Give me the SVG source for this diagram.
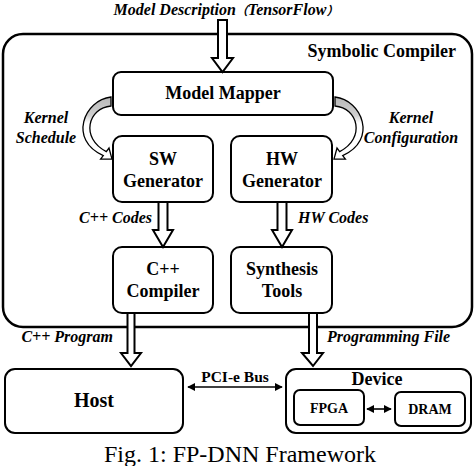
<svg xmlns="http://www.w3.org/2000/svg" width="474" height="466" viewBox="0 0 474 466">
<defs>
<style>
.box{fill:#fff;stroke:#000;stroke-width:2}
.outer{fill:#fff;stroke:#000;stroke-width:2.5}
.t{font-family:"Liberation Serif","Times New Roman",serif;font-weight:bold;fill:#000}
.it{font-family:"Liberation Serif","Times New Roman",serif;font-weight:bold;font-style:italic;fill:#000}
.harrow{fill:#fff;stroke:#000;stroke-width:2;stroke-linejoin:miter}
.curve{fill:url(#g);stroke:#000;stroke-width:1.3;stroke-linejoin:miter}
.dbl{stroke:#000;stroke-width:1.6;fill:none;marker-start:url(#ah);marker-end:url(#ah)}
</style>
<linearGradient id="g" x1="0" y1="0" x2="0" y2="1">
<stop offset="0" stop-color="#b8b8b8"/>
<stop offset="0.3" stop-color="#d0d0d0"/>
<stop offset="0.42" stop-color="#fff"/>
<stop offset="1" stop-color="#fff"/>
</linearGradient>
<marker id="ah" viewBox="0 0 10 10" refX="9" refY="5" markerWidth="5" markerHeight="5" orient="auto-start-reverse" markerUnits="strokeWidth">
<path d="M0,0 L10,5 L0,10 Z" fill="#000"/>
</marker>
</defs>
<rect width="474" height="466" fill="#fff"/>

<text class="it" x="226" y="15" text-anchor="middle" font-size="16">Model Description<tspan font-family="'Noto Sans CJK SC',sans-serif" font-size="12">（</tspan>TensorFlow<tspan font-family="'Noto Sans CJK SC',sans-serif" font-size="12">）</tspan></text>

<g id="symbolic-compiler">
<rect class="outer" x="3" y="34" width="469" height="293" rx="20"/>
<text class="t" x="456" y="57" font-size="18" text-anchor="end">Symbolic Compiler</text>
</g>

<g id="model-mapper">
<rect class="box" x="113" y="72" width="220" height="43" rx="8"/>
<text class="t" x="223" y="99" font-size="18" text-anchor="middle">Model Mapper</text>
</g>

<g id="sw-generator">
<rect class="box" x="113" y="136" width="100" height="66" rx="9"/>
<text class="t" x="163" y="165" font-size="18" text-anchor="middle">SW</text>
<text class="t" x="163" y="187" font-size="18" text-anchor="middle">Generator</text>
</g>

<g id="hw-generator">
<rect class="box" x="231" y="136" width="101" height="66" rx="9"/>
<text class="t" x="282" y="165" font-size="18" text-anchor="middle">HW</text>
<text class="t" x="282" y="187" font-size="18" text-anchor="middle">Generator</text>
</g>

<g id="cpp-compiler">
<rect class="box" x="113" y="247" width="100" height="66" rx="9"/>
<text class="t" x="163" y="275" font-size="18" text-anchor="middle">C++</text>
<text class="t" x="163" y="297" font-size="18" text-anchor="middle">Compiler</text>
</g>

<g id="synthesis-tools">
<rect class="box" x="231" y="247" width="101" height="66" rx="9"/>
<text class="t" x="282" y="275" font-size="18" text-anchor="middle">Synthesis</text>
<text class="t" x="282" y="297" font-size="18" text-anchor="middle">Tools</text>
</g>

<g id="host">
<rect class="box" x="5" y="369" width="178" height="64" rx="10"/>
<text class="t" x="94" y="407" font-size="20" text-anchor="middle">Host</text>
</g>

<g id="device">
<rect class="box" x="286" y="369" width="185" height="64" rx="10"/>
<text class="t" x="377" y="385" font-size="18" text-anchor="middle">Device</text>
</g>

<g id="fpga">
<rect class="box" x="294" y="390" width="70" height="35" rx="6"/>
<text class="t" x="329" y="413" font-size="14" text-anchor="middle">FPGA</text>
</g>

<g id="dram">
<rect class="box" x="395" y="392" width="70" height="34" rx="6"/>
<text class="t" x="430" y="414" font-size="14" text-anchor="middle">DRAM</text>
</g>

<g id="connectors">
<polygon class="harrow" points="218,20 227,20 227,58 233,58 222.5,72 212,58 218,58"/>
<path class="curve" d="M111,97 C84,100 68,140 103.3,155.6 L100.6,159.2 L112,159 L109,148 L106.3,151.6 C80,138 88,108 111,106 Z"/>
<path class="curve" transform="translate(446,0) scale(-1,1)" d="M111,97 C84,100 68,140 103.3,155.6 L100.6,159.2 L112,159 L109,148 L106.3,151.6 C80,138 88,108 111,106 Z"/>
<polygon class="harrow" points="158.5,202 167.5,202 167.5,230 173,230 163,247 153,230 158.5,230"/>
<polygon class="harrow" points="277.5,202 286.5,202 286.5,230 292,230 282,247 272,230 277.5,230"/>
<polygon class="harrow" points="127.5,313 134.5,313 134.5,353 141,353 131,366 121,353 127.5,353"/>
<polygon class="harrow" points="309,313 317,313 317,353 323,353 313,366 302,353 309,353"/>
<line class="dbl" x1="188" y1="387" x2="282" y2="387"/>
<line class="dbl" x1="367" y1="409" x2="391" y2="409"/>
<text class="it" x="46" y="123" font-size="16" text-anchor="middle">Kernel</text>
<text class="it" x="46" y="143" font-size="16" text-anchor="middle">Schedule</text>
<text class="it" x="411" y="123" font-size="16" text-anchor="middle">Kernel</text>
<text class="it" x="411" y="143" font-size="16" text-anchor="middle">Configuration</text>
<text class="it" x="152" y="223" font-size="16" text-anchor="end">C++ Codes</text>
<text class="it" x="298" y="223" font-size="16">HW Codes</text>
<text class="it" x="113" y="342" font-size="16" text-anchor="end">C++ Program</text>
<text class="it" x="327" y="342" font-size="16">Programming File</text>
<text class="t" x="235" y="382" font-size="15.5" text-anchor="middle">PCI-e Bus</text>
</g>

<text x="240" y="462" font-family="'Liberation Serif','Times New Roman',serif" font-size="24" text-anchor="middle">Fig. 1: FP-DNN Framework</text>
</svg>
